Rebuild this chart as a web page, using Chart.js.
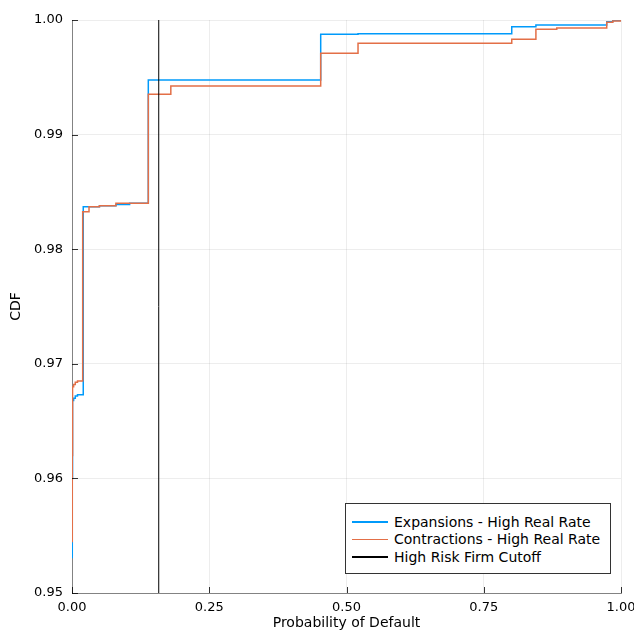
<!DOCTYPE html>
<html>
<head>
<meta charset="utf-8">
<script src="https://cdn.jsdelivr.net/npm/chart.js@4.4.1/dist/chart.umd.min.js"></script>
<style>
  body { margin: 0; background: #fff; }
  #wrap { position: relative; width: 634px; height: 632px; overflow: hidden; }
  #legend {
    position: absolute; left: 345px; top: 503px; width: 266px; height: 71px;
    border: 1px solid #333; background: #fff; box-sizing: border-box;
    font-family: "DejaVu Sans", sans-serif; font-size: 14px; color: #000;
    padding-top: 9px;
  }
  .row { height: 17.5px; display: flex; align-items: center; }
  .swatch { width: 36px; height: 1.5px; margin-left: 6px; margin-right: 6px; }
</style>
</head>
<body>
<div id="wrap">
  <canvas id="mycdf" width="634" height="632"></canvas>
  <div id="legend"></div>
</div>
<script>
// expansions - high real rate (step points, value holds from x until next x)
const expX = [0, 0.0005, 0.001, 0.003, 0.006, 0.010, 0.0205, 0.05, 0.08, 0.105, 0.139, 0.453, 0.521, 0.801, 0.845, 0.974, 0.985, 1.0]
const expY = [0.9531, 0.9600, 0.9668, 0.9670, 0.9672, 0.9673, 0.9837, 0.9838, 0.9839, 0.9840, 0.99476, 0.99875, 0.9988, 0.99942, 0.99956, 0.99985, 0.99995, 1.0]

// contractions - high real rate
const conX = [0, 0.0005, 0.001, 0.003, 0.006, 0.010, 0.0195, 0.031, 0.05, 0.08, 0.105, 0.139, 0.180, 0.453, 0.521, 0.801, 0.845, 0.883, 0.974, 0.985, 1.0]
const conY = [0.9545, 0.9620, 0.9680, 0.9682, 0.9684, 0.9685, 0.98327, 0.9837, 0.9838, 0.9840, 0.9840, 0.99352, 0.99424, 0.99709, 0.99797, 0.99831, 0.99919, 0.9993, 0.9998, 0.99991, 1.0]

// high risk firm cutoff
const cutoffX = [0.158, 0.158]
const cutoffY = [0.95, 1.0]

const xTicks = [0, 0.25, 0.5, 0.75, 1.0]
const yTicks = [0.95, 0.96, 0.97, 0.98, 0.99, 1.0]

const labels = ["Expansions - High Real Rate", "Contractions - High Real Rate", "High Risk Firm Cutoff"]
const colors = ["#009AFA", "#E36F47", "#000000"]

function toPoints(xs, ys){
	return xs.map(function(x, i){ return {x: x, y: ys[i]} })
}

// little inward ticks like the original plot
const innerTicks = {
	id: "innerTicks",
	afterDraw: function(chart){
		const ctx = chart.ctx
		const xs = chart.scales.x
		const ys = chart.scales.y
		ctx.save()
		ctx.strokeStyle = "rgba(0,0,0,0.8)"
		ctx.lineWidth = 1
		yTicks.forEach(function(v){
			const py = Math.round(ys.getPixelForValue(v)) + 0.5
			ctx.beginPath(); ctx.moveTo(xs.left, py); ctx.lineTo(xs.left + 6, py); ctx.stroke()
		})
		xTicks.forEach(function(v){
			const px = Math.round(xs.getPixelForValue(v)) + 0.5
			ctx.beginPath(); ctx.moveTo(px, ys.bottom); ctx.lineTo(px, ys.bottom - 6); ctx.stroke()
		})
		ctx.restore()
	}
}

function drawcdf(){
	const canvas = document.getElementById("mycdf")
	new Chart(canvas, {
		type: 'scatter',
		data: {
			datasets: [{
				label: labels[0],
				data: toPoints(expX, expY),
				showLine: true,
				stepped: 'before',
				borderColor: colors[0],
				borderWidth: 1.5,
				pointRadius: 0,
				order: 2
			}, {
				label: labels[1],
				data: toPoints(conX, conY),
				showLine: true,
				stepped: 'before',
				borderColor: colors[1],
				borderWidth: 1.5,
				pointRadius: 0,
				order: 1
			}, {
				label: labels[2],
				data: toPoints(cutoffX, cutoffY),
				showLine: true,
				borderColor: colors[2],
				borderWidth: 1,
				pointRadius: 0,
				order: 0
			}]
		},
		options: {
			responsive: false,
			animation: false,
			layout: { padding: { top: 20, right: 0, left: 0, bottom: 0 } },
			plugins: { legend: { display: false }, tooltip: { enabled: false } },
			scales: {
				x: {
					type: 'linear',
					min: 0, max: 1,
					afterBuildTicks: function(scale){ scale.ticks = xTicks.map(function(v){ return {value: v} }) },
					afterFit: function(scale){
						scale.height = 39
						scale.paddingRight = 13
						scale.paddingLeft = 0
					},
					ticks: {
						padding: 7,
						color: "#000",
						font: { family: "DejaVu Sans", size: 13 },
						callback: function(v){ return Number(v).toFixed(2) }
					},
					grid: { color: "rgba(0,0,0,0.07)", drawTicks: false },
					border: { color: "rgba(0,0,0,0.45)", width: 1 },
					title: {
						display: true, text: "Probability of Default", color: "#000",
						font: { family: "DejaVu Sans", size: 14 }, padding: 0
					}
				},
				y: {
					type: 'linear',
					min: 0.95, max: 1.0,
					afterBuildTicks: function(scale){ scale.ticks = yTicks.map(function(v){ return {value: v} }) },
					afterFit: function(scale){ scale.width = 72 },
					ticks: {
						padding: 9,
						color: "#000",
						font: { family: "DejaVu Sans", size: 13 },
						callback: function(v){ return Number(v).toFixed(2) }
					},
					grid: { color: "rgba(0,0,0,0.07)", drawTicks: false },
					border: { color: "rgba(0,0,0,0.45)", width: 1 },
					title: {
						display: true, text: "CDF", color: "#000",
						font: { family: "DejaVu Sans", size: 14 }, padding: { top: 8, bottom: 0 }
					}
				}
			}
		},
		plugins: [innerTicks]
	})
}

function drawlegend(){
	const box = document.getElementById("legend")
	labels.forEach(function(name, i){
		const row = document.createElement("div")
		row.className = "row"
		const sw = document.createElement("span")
		sw.className = "swatch"
		sw.style.backgroundColor = colors[i]
		const txt = document.createElement("span")
		txt.textContent = name
		row.appendChild(sw)
		row.appendChild(txt)
		box.appendChild(row)
	})
}

drawcdf()
drawlegend()
</script>
</body>
</html>
